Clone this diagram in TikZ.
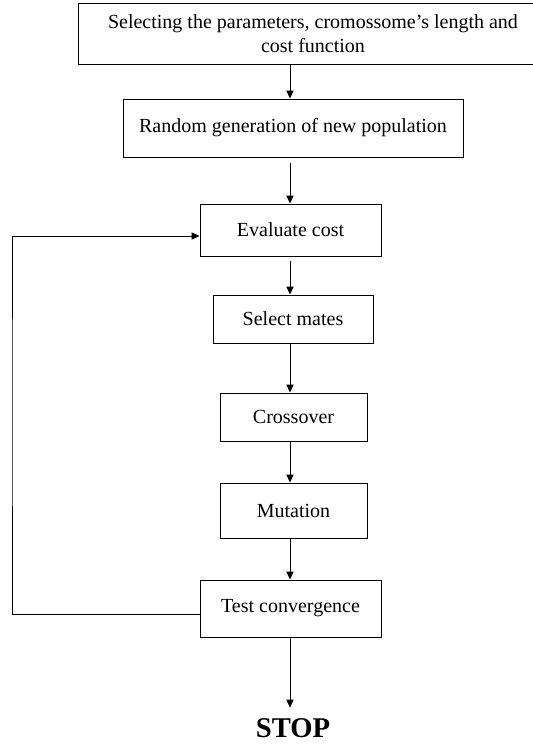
\documentclass[tikz,border=0pt]{standalone}
\usepackage{fontspec}
\setmainfont{Liberation Serif}
\usetikzlibrary{
arrows.meta,
calc,
}

\begin{document}
\begin{tikzpicture}[x=0.5pt, y=-0.5pt,
	box/.style={draw, line width=0.5pt, inner sep=0pt, align=center, font=\fontsize{10}{12}\selectfont},
	flow/.style={line width=0.5pt, -{Triangle[length=4pt, width=3.6pt]}}]
			\useasboundingbox (0,0) rectangle (533,746);
			\coordinate(col) at (290,0);
			\coordinate(loopx) at (12,400);

			\node[box, minimum width=235pt, minimum height=30.5pt] (sel) at (313,33.5) {Selecting the parameters, cromossome's length and\\cost function};
			\node[box, minimum width=170pt, minimum height=29pt] (rand) at (293,128) {Random generation of new population};
			\node[box, minimum width=90.5pt, minimum height=26pt] (eval) at (290.5,230) {Evaluate cost};
			\node[box, minimum width=80pt, minimum height=24pt] (mates) at (293,319) {Select mates};
			\node[box, minimum width=73.5pt, minimum height=24pt] (cross) at (293.5,417) {Crossover};
			\node[box, minimum width=73.5pt, minimum height=27.5pt] (mut) at (293.5,510.5) {Mutation};
			\node[box, minimum width=90.5pt, minimum height=28.5pt] (test) at (290.5,608.5) {Test convergence};
			\node[anchor=base, inner sep=0pt, font=\fontsize{14.3}{16}\selectfont\bfseries] (stop) at (293,737) {STOP};

			\draw[flow] (sel.south -| col) -- (rand.north -| col);
			\draw[flow] ([yshift=-2.5pt]rand.south -| col) -- (eval.north -| col);
			\draw[flow] ([yshift=-2pt]eval.south -| col) -- (mates.north -| col);
			\draw[flow] (mates.south -| col) -- (cross.north -| col);
			\draw[flow] (cross.south -| col) -- (mut.north -| col);
			\draw[flow] (mut.south -| col) -- (test.north -| col);
			\draw[flow, shorten >=5pt] (test.south -| col) -- (stop.north -| col);
			\draw[flow] ([yshift=-3pt]test.west) -| (loopx) |- ([yshift=-3pt]eval.west);
		\end{tikzpicture}
\end{document}
